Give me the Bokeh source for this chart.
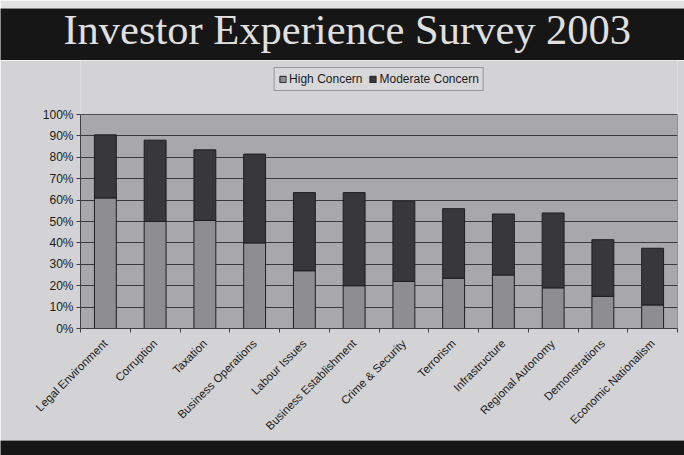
import math
from bokeh.plotting import figure
from bokeh.layouts import column
from bokeh.models import (ColumnDataSource, Range1d, LinearAxis, FixedTicker,
                          NumeralTickFormatter, Legend)
from bokeh.core.properties import value
from bokeh.embed import file_html
from bokeh.resources import INLINE

title_text = "Investor Experience Survey 2003"
series_names = ["High Concern", "Moderate Concern"]
categories = ["Legal Environment", "Corruption", "Taxation", "Business Operations",
              "Labour Issues", "Business Establishment", "Crime & Security", "Terrorism",
              "Infrastructure", "Regional Autonomy", "Demonstrations", "Economic Nationalism"]
high_concern = [61, 50, 50.5, 40, 27, 20, 22, 23.5, 25, 19, 15, 11]
moderate_concern = [29.5, 38, 33, 41.5, 36.5, 43.5, 37.5, 32.5, 28.5, 35, 26.5, 26.5]
y_ticks = [0, 0.1, 0.2, 0.3, 0.4, 0.5, 0.6, 0.7, 0.8, 0.9, 1.0]

BLACK = "#161616"
PAPER = "#e2e2e2"
AREA = "#d3d3d5"
PLOT_BG = "#a8a8aa"
HIGH_C = "#8e8e90"
MOD_C = "#38383b"
FONT = "Liberation Sans"

n = len(categories)
centers = [i + 0.5 for i in range(n)]

# layout sizes (pixels)
FIG_W, CHART_H = 684, 380
LEGEND_SPACE = 54      # chart-area strip above the 100% line, holding the legend
PLOT_H = 214           # height of the 0..100% plot area
BOTTOM_SPACE = CHART_H - LEGEND_SPACE - PLOT_H


def strip(w, h, **borders):
    f = figure(width=w, height=h, x_range=Range1d(0, 1), y_range=Range1d(0, 1),
               x_axis_type=None, y_axis_type=None, toolbar_location=None,
               output_backend="svg", min_border=0, **borders)
    f.background_fill_color = BLACK
    f.border_fill_color = PAPER
    f.outline_line_color = None
    f.grid.visible = False
    f.frame_align = False
    return f


# ---- title band ----
t = strip(FIG_W, 60, min_border_top=8)
t.text(x=[0.507], y=[0.6], text=[title_text], text_align="center",
       text_baseline="alphabetic", text_font=value("Liberation Serif"),
       text_font_size="42.5px", text_color="#e0e0e0")

# ---- chart ----
src = ColumnDataSource(dict(
    x=centers,
    cat=categories,
    high=[v / 100 for v in high_concern],
    moderate=[v / 100 for v in moderate_concern],
))

y_top = (LEGEND_SPACE + PLOT_H) / PLOT_H
p = figure(width=FIG_W, height=CHART_H, x_range=Range1d(0, n), y_range=Range1d(0, y_top),
           x_axis_type=None, toolbar_location=None, output_backend="svg",
           min_border_left=80, min_border_right=7, min_border_top=0,
           min_border_bottom=BOTTOM_SPACE)
p.frame_align = False
p.background_fill_color = AREA
p.border_fill_color = AREA
p.outline_line_color = None

# plot-area panel (0..100%)
panel = p.quad(left=[0], right=[n], bottom=[0], top=[1], fill_color=PLOT_BG,
               line_color="#505052", line_width=1, level="image")

rs = p.vbar_stack(["high", "moderate"], x="x", width=0.44, source=src,
                  fill_color=[HIGH_C, MOD_C], line_color="#1e1e1e", line_width=1)

p.xgrid.visible = False
p.ygrid.ticker = FixedTicker(ticks=y_ticks[1:-1])
p.ygrid.grid_line_color = "#3a3a3e"
p.ygrid.grid_line_width = 1

ya = p.yaxis[0]
ya.ticker = FixedTicker(ticks=y_ticks)
ya.bounds = (0, 1)
ya.formatter = NumeralTickFormatter(format="0%")
ya.major_label_text_font = FONT
ya.major_label_text_font_size = "12px"
ya.major_label_text_color = "#1a1a1a"
ya.axis_line_color = "#404040"
ya.major_tick_line_color = "#404040"
ya.major_tick_out = 4
ya.major_tick_in = 0
ya.minor_tick_line_color = None
ya.major_label_standoff = 3

edge_axis = LinearAxis(ticker=FixedTicker(ticks=list(range(n + 1))))
edge_axis.major_label_text_font_size = "1px"
edge_axis.major_label_text_alpha = 0
edge_axis.major_label_standoff = 0
edge_axis.axis_line_color = "#404040"
edge_axis.major_tick_line_color = "#404040"
edge_axis.major_tick_out = 4
edge_axis.major_tick_in = 0
edge_axis.minor_tick_line_color = None

label_axis = LinearAxis(ticker=FixedTicker(ticks=centers),
                        major_label_overrides={c: name for c, name in zip(centers, categories)})
label_axis.major_label_orientation = math.pi / 4
label_axis.major_label_text_font = FONT
label_axis.major_label_text_font_size = "11.5px"
label_axis.major_label_text_color = "#1a1a1a"
label_axis.axis_line_color = None
label_axis.major_tick_line_color = None
label_axis.minor_tick_line_color = None
label_axis.major_label_standoff = 3

p.add_layout(edge_axis, "below")
p.add_layout(label_axis, "below")

legend = Legend(items=[(series_names[0], [rs[0]]), (series_names[1], [rs[1]])],
                orientation="horizontal", location="top_center")
legend.label_text_font = FONT
legend.label_text_font_size = "12px"
legend.label_text_color = "#1a1a1a"
legend.glyph_width = 8
legend.glyph_height = 8
legend.label_standoff = 3
legend.spacing = 6
legend.padding = 4
legend.margin = 7
legend.label_height = 12
legend.background_fill_color = "#d8d8da"
legend.background_fill_alpha = 1
legend.border_line_color = "#555555"
p.add_layout(legend, "center")

bottom = strip(FIG_W, 15)
bottom.border_fill_color = BLACK

layout = column(t, p, bottom, spacing=0)
open("out.html", "w").write(file_html(layout, INLINE))
